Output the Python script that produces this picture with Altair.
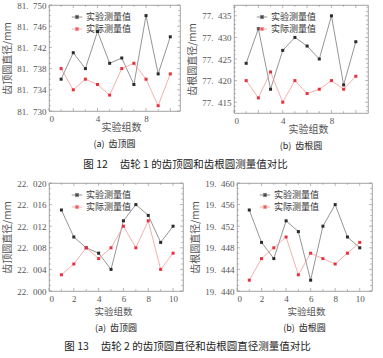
import altair as alt
import pandas as pd
import numpy as np

groups = list(range(1, 11))
series_names = ["实验测量值", "实际测量值"]

# Fig 12 (a) addendum circle, gear 1
g1_tip_exp = [81.736, 81.741, 81.738, 81.745, 81.739, 81.740, 81.735, 81.748, 81.737, 81.744]
g1_tip_act = [81.738, 81.734, 81.736, 81.735, 81.733, 81.738, 81.739, 81.736, 81.731, 81.737]
# Fig 12 (b) root circle, gear 1
g1_root_exp = [77.424, 77.432, 77.418, 77.427, 77.430, 77.428, 77.425, 77.435, 77.419, 77.429]
g1_root_act = [77.420, 77.416, 77.422, 77.415, 77.420, 77.417, 77.418, 77.420, 77.418, 77.421]
# Fig 13 (a) addendum circle, gear 2
g2_tip_exp = [22.015, 22.010, 22.008, 22.007, 22.004, 22.013, 22.016, 22.014, 22.009, 22.012]
g2_tip_act = [22.003, 22.005, 22.008, 22.006, 22.008, 22.012, 22.008, 22.013, 22.004, 22.007]
# Fig 13 (b) root circle, gear 2
g2_root_exp = [19.455, 19.449, 19.446, 19.453, 19.451, 19.442, 19.452, 19.456, 19.450, 19.448]
g2_root_act = [19.442, 19.446, 19.448, 19.450, 19.443, 19.447, 19.446, 19.445, 19.447, 19.449]

y_ticks_g1_tip = [81.730, 81.734, 81.738, 81.742, 81.746, 81.750]
y_ticks_g1_root = [77.415, 77.420, 77.425, 77.430, 77.435]
y_ticks_g2_tip = [22.000, 22.004, 22.008, 22.012, 22.016, 22.020]
y_ticks_g2_root = [19.440, 19.444, 19.448, 19.452, 19.456, 19.460]
x_ticks_top = [0, 4, 8]
x_ticks_bottom = [0, 2, 4, 6, 8, 10]

ytitle_tip = "齿顶圆直径/mm"
ytitle_root = "齿根圆直径/mm"
xtitle = "实验组数"
NB = "\u00a0"
cap_a = "(a)" + NB + NB + "齿顶圆"
cap_b = "(b)" + NB + NB + "齿根圆"
fig12 = "图" + NB + "12" + NB * 5 + "齿轮" + NB + "1" + NB + "的齿顶圆和齿根圆测量值对比"
fig13 = "图" + NB + "13" + NB * 5 + "齿轮" + NB + "2" + NB + "的齿顶圆直径和齿根圆直径测量值对比"

CJK = "Noto Sans CJK SC"
NUM = "Liberation Serif"
LINE_COLORS = ["#7a7a7a", "#f39a9a"]
PT_COLORS = ["#2a2a2a", "#e8303a"]
FRAME = "#8a8a8a"


def make_df(exp, act):
    rows = []
    for s, vals in zip(series_names, [exp, act]):
        for g, v in zip(groups, vals):
            rows.append({"x": g, "y": v, "series": s})
    return pd.DataFrame(rows)


def panel(exp, act, ydom, yticks, xdom, xticks, ytitle, caption, w, h,
          xtitle_x, xtitle_pad, xtitle_size):
    df = make_df(exp, act)
    xscale = alt.Scale(domain=xdom, nice=False, zero=False)
    yscale = alt.Scale(domain=ydom, nice=False, zero=False)
    xenc = alt.X("x:Q", scale=xscale,
                 axis=alt.Axis(values=xticks, title=xtitle, format="d",
                               titleX=xtitle_x, titlePadding=xtitle_pad,
                               titleFontSize=xtitle_size))
    yenc = alt.Y("y:Q", scale=yscale,
                 axis=alt.Axis(values=yticks, title=ytitle,
                               labelExpr="replace(format(datum.value, '.3f'), '.', '.\u2002')"))
    legend = alt.Legend(title=None, orient="none", legendX=22, legendY=6,
                        symbolType="M-1,0H1M-0.3,-0.3H0.3V0.3H-0.3Z",
                        symbolSize=110, symbolStrokeWidth=0.8,
                        labelFont=CJK, labelFontSize=9, labelColor="#333",
                        rowPadding=1, labelOffset=3, padding=0)
    line = alt.Chart(df).mark_line(strokeWidth=0.8).encode(
        x=xenc, y=yenc,
        stroke=alt.Stroke("series:N", scale=alt.Scale(domain=series_names, range=LINE_COLORS),
                          legend=legend),
    )
    pts = alt.Chart(df).mark_point(shape="square", filled=True, size=9, opacity=1).encode(
        x=xenc, y=yenc,
        fill=alt.Fill("series:N", scale=alt.Scale(domain=series_names, range=PT_COLORS),
                      legend=legend),
    )

    # inward tick marks on all four sides (positions from the scales)
    step = 0.001
    first = int(np.ceil(ydom[0] / step - 1e-6))
    last = int(np.floor(ydom[1] / step + 1e-6))
    y_all = [round(k * step, 4) for k in range(first, last + 1)]
    y_major = [v for v in y_all if any(abs(v - t) < 1e-6 for t in yticks)]
    y_minor = [v for v in y_all if v not in y_major]
    x_all = [v for v in range(0, 12) if v <= xdom[1] - 0.05]
    x_major = [v for v in x_all if v % 2 == 0]
    x_minor = [v for v in x_all if v % 2 == 1]

    ydf_maj = pd.DataFrame({"y": y_major})
    ydf_min = pd.DataFrame({"y": y_minor})
    xdf_maj = pd.DataFrame({"x": x_major})
    xdf_min = pd.DataFrame({"x": x_minor})
    tick_layers = []
    for d, L in ((ydf_maj, 3), (ydf_min, 1.8)):
        tick_layers.append(alt.Chart(d).mark_rule(color=FRAME, strokeWidth=0.6).encode(
            y=yenc, x=alt.value(0), x2=alt.value(L)))
        tick_layers.append(alt.Chart(d).mark_rule(color=FRAME, strokeWidth=0.6).encode(
            y=yenc, x=alt.value(w), x2=alt.value(w - L)))
    for d, L in ((xdf_maj, 3), (xdf_min, 1.8)):
        tick_layers.append(alt.Chart(d).mark_rule(color=FRAME, strokeWidth=0.6).encode(
            x=xenc, y=alt.value(h), y2=alt.value(h - L)))
        tick_layers.append(alt.Chart(d).mark_rule(color=FRAME, strokeWidth=0.6).encode(
            x=xenc, y=alt.value(0), y2=alt.value(L)))

    return alt.layer(line, pts, *tick_layers).properties(
        width=w, height=h,
        title=alt.TitleParams(caption, orient="bottom", font=CJK, fontSize=9,
                              fontWeight="normal", color="#222", offset=8),
    )


p1 = panel(g1_tip_exp, g1_tip_act, [81.730, 81.750], y_ticks_g1_tip, [0, 10.8], x_ticks_top,
           ytitle_tip, cap_a, 131, 106, 72, -1, 10)
p2 = panel(g1_root_exp, g1_root_act, [77.4125, 77.4375], y_ticks_g1_root, [0, 11], x_ticks_top,
           ytitle_root, cap_b, 134, 108, 74, -1, 10)
p3 = panel(g2_tip_exp, g2_tip_act, [22.000, 22.020], y_ticks_g2_tip, [0, 10.8], x_ticks_bottom,
           ytitle_tip, cap_a, 134, 108, 64, 3, 9.5)
p4 = panel(g2_root_exp, g2_root_act, [19.440, 19.460], y_ticks_g2_root, [0, 11], x_ticks_bottom,
           ytitle_root, cap_b, 135, 108, 69, 3, 9.5)

figtitle = dict(orient="bottom", font=CJK, fontSize=10.5, fontWeight="normal", color="#222",
                offset=9, anchor="middle")
row1 = alt.hconcat(p1, p2, spacing=6).properties(
    title=alt.TitleParams(fig12, **figtitle)
).resolve_scale(stroke="independent", fill="independent").resolve_legend(
    stroke="independent", fill="independent")
row2 = alt.hconcat(p3, p4, spacing=6).properties(
    title=alt.TitleParams(fig13, **figtitle)
).resolve_scale(stroke="independent", fill="independent").resolve_legend(
    stroke="independent", fill="independent")

chart = alt.vconcat(row1, row2, spacing=7).resolve_scale(
    stroke="independent", fill="independent"
).resolve_legend(stroke="independent", fill="independent").properties(
    padding={"left": 2, "top": 0, "right": 2, "bottom": 2},
    background="white",
).configure_view(
    stroke=FRAME, strokeWidth=0.8,
).configure_axis(
    grid=False, domain=False, ticks=False,
    labelFont=NUM, labelFontSize=9, labelColor="#555",
    titleFont=CJK, titleFontSize=10, titleColor="#555", titleFontWeight="normal",
    labelPadding=3,
).configure_axisY(
    titlePadding=4,
).configure_concat(spacing=6)

chart.save("out.html", embed_options={"renderer": "svg", "actions": False})
